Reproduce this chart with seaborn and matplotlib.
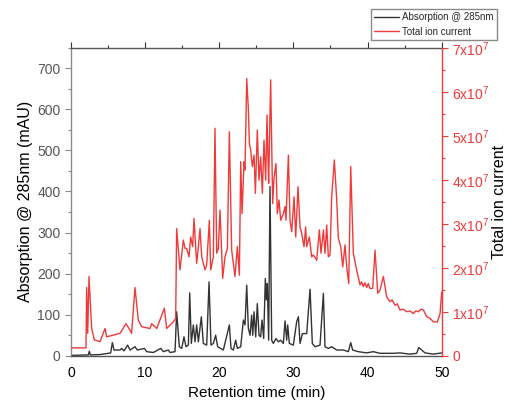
import matplotlib
matplotlib.use("Agg")
import matplotlib.pyplot as plt
import matplotlib.ticker as mticker
import seaborn as sns
import pandas as pd

# ---- data ----
tic_time = [0.0, 2.02, 2.11, 2.25, 2.43, 2.79, 3.15, 3.91, 4.59, 4.81, 5.71, 6.61, 7.42, 7.96, 8.18,
            8.63, 9.08, 9.53, 10.66, 10.88, 11.56, 12.59, 12.90, 13.80, 14.12, 14.25, 14.70, 15.15,
            15.38, 15.60, 15.92, 16.14, 16.41, 16.59, 16.95, 17.18, 17.40, 17.63, 17.85, 18.08,
            18.30, 18.66, 18.84, 19.20, 19.42, 19.65, 19.87, 20.10, 20.46, 20.77, 21.09, 21.36,
            21.67, 21.90, 22.12, 22.44, 22.71, 22.89, 23.07, 23.34, 23.47, 23.70, 23.92, 24.06,
            24.24, 24.46, 24.69, 24.87, 25.13, 25.36, 25.58, 25.81, 26.03, 26.26, 26.44, 26.57,
            26.66, 26.93, 27.20, 27.38, 27.65, 27.83, 28.06, 28.28, 28.64, 28.87, 29.00, 29.32,
            29.54, 29.77, 30.08, 30.31, 30.62, 30.89, 31.12, 31.43, 31.65, 31.79, 32.15, 32.46,
            32.69, 33.14, 33.50, 33.72, 34.04, 34.26, 34.49, 34.71, 34.94, 35.16, 35.52, 35.84,
            36.06, 36.38, 36.65, 36.96, 37.19, 37.46, 37.73, 38.08, 38.53, 38.98, 39.20, 39.43,
            39.65, 39.88, 40.10, 40.33, 40.69, 41.01, 41.37, 41.68, 42.13, 42.58, 43.03, 43.30,
            43.71, 44.00, 44.38, 44.80, 45.28, 45.70, 46.18, 46.50, 46.85, 47.20, 47.53, 47.98,
            48.43, 48.88, 49.42, 49.78, 50.0]
tic_value_e7 = [0.18, 0.18, 1.55, 0.51, 1.80, 0.62, 0.36, 0.32, 0.62, 0.43, 0.47, 0.51, 0.73, 0.58, 0.51,
                1.55, 0.81, 0.66, 0.62, 0.73, 0.62, 1.08, 0.62, 0.77, 0.85, 2.89, 1.95, 2.63,
                2.44, 2.44, 2.25, 2.70, 2.48, 3.12, 2.10, 2.48, 2.89, 2.25, 2.10, 1.95,
                2.06, 3.08, 1.95, 2.25, 5.17, 2.33, 2.44, 3.31, 1.76, 2.25, 2.44, 5.09,
                2.40, 2.10, 1.80, 2.48, 1.83, 4.41, 3.23, 4.41, 4.22, 6.30, 5.62, 4.83,
                4.67, 4.30, 4.56, 3.69, 5.13, 3.99, 4.52, 3.69, 4.90, 3.99, 5.47, 4.48,
                3.92, 6.27, 3.46, 4.03, 4.37, 3.23, 3.54, 3.08, 3.23, 3.39, 3.08, 4.56,
                3.08, 2.82, 3.61, 2.70, 3.84, 2.93, 2.78, 2.48, 2.93, 2.48, 2.70, 2.25,
                2.29, 2.17, 2.86, 2.33, 2.86, 2.33, 2.97, 2.25, 2.29, 3.61, 4.45, 3.54,
                2.67, 2.48, 2.02, 2.52, 2.02, 1.64, 4.30, 2.33, 1.95, 1.61, 1.68, 1.57,
                1.66, 1.55, 1.64, 1.53, 1.53, 2.40, 1.42, 1.49, 1.80, 1.34, 1.23, 1.27,
                1.15, 1.18, 1.04, 1.06, 1.00, 1.02, 0.96, 1.02, 1.00, 1.06, 1.04, 0.89,
                0.85, 0.77, 0.77, 0.96, 1.45]

abs_time = [0.0, 2.34, 2.47, 2.61, 3.91, 5.04, 5.35, 5.58, 5.80, 6.61, 6.83, 7.15, 7.64, 7.96, 8.63,
            8.95, 9.89, 10.21, 11.11, 12.10, 12.46, 13.13, 13.35, 14.03, 14.25, 14.61, 14.93, 15.24,
            15.51, 15.83, 16.01, 16.23, 16.50, 16.73, 16.95, 17.18, 17.58, 17.85, 18.30, 18.62,
            18.88, 19.20, 19.51, 19.78, 20.55, 21.36, 21.58, 21.90, 22.21, 22.44, 22.89, 23.25,
            23.47, 23.70, 23.92, 24.15, 24.37, 24.51, 24.69, 24.91, 25.13, 25.36, 25.58, 25.76,
            25.99, 26.21, 26.35, 26.48, 26.66, 26.84, 27.07, 27.29, 27.65, 27.97, 28.28, 28.64,
            28.87, 29.09, 29.23, 29.45, 29.99, 30.44, 30.67, 30.89, 31.21, 31.56, 31.79, 32.24,
            32.55, 32.91, 33.59, 34.04, 34.26, 34.71, 35.16, 35.84, 36.74, 37.41, 37.73, 37.99,
            38.76, 39.88, 40.78, 41.68, 43.48, 44.38, 45.73, 46.63, 46.90, 47.30, 47.75, 48.88, 50.0]
abs_value = [1, 2, 11, 2, 3, 6, 7, 32, 14, 14, 18, 12, 26, 14, 22,
             14, 18, 10, 8, 18, 10, 14, 8, 10, 107, 22, 18, 46,
             22, 26, 153, 30, 75, 34, 75, 34, 95, 30, 26, 180,
             26, 30, 50, 22, 14, 75, 18, 14, 38, 18, 22, 87,
             75, 172, 67, 50, 99, 50, 107, 46, 127, 50, 46, 87,
             42, 188, 136, 176, 38, 412, 38, 30, 42, 34, 38, 30,
             85, 38, 75, 30, 26, 83, 95, 30, 54, 54, 54, 162,
             30, 22, 26, 152, 22, 18, 22, 14, 14, 10, 32, 14,
             10, 7, 10, 6, 6, 7, 4, 6, 20, 14, 7, 4, 7]

label_abs = "Absorption @ 285nm"
label_tic = "Total ion current"

df_abs = pd.DataFrame({"t": abs_time, "v": abs_value})
df_tic = pd.DataFrame({"t": tic_time, "v": [v * 1e7 for v in tic_value_e7]})

# ---- style ----
sns.set_style("white")
plt.rcParams["font.family"] = ["Liberation Sans", "DejaVu Sans"]

BLACK = "#333333"
RED = "#f03a3a"
GREY = "#8a8a8a"

fig = plt.figure(figsize=(5.16, 4.08), dpi=100)
ax = fig.add_axes([0.1376, 0.128, 0.7184, 0.755])
ax2 = ax.twinx()
ax2.xaxis.set_visible(False)

sns.lineplot(data=df_tic, x="t", y="v", ax=ax2, color=RED, lw=1.0, estimator=None, label=label_tic, legend=False)
sns.lineplot(data=df_abs, x="t", y="v", ax=ax, color=BLACK, lw=1.0, estimator=None, label=label_abs, legend=False)

ax.set_xlim(0, 50)
ax.set_ylim(0, 750)
ax2.set_ylim(0, 7e7)

ax.xaxis.set_major_locator(mticker.MultipleLocator(10))
ax.xaxis.set_minor_locator(mticker.MultipleLocator(5))
ax.yaxis.set_major_locator(mticker.MultipleLocator(100))
ax.yaxis.set_minor_locator(mticker.MultipleLocator(50))
ax2.yaxis.set_major_locator(mticker.MultipleLocator(1e7))
ax2.yaxis.set_minor_locator(mticker.MultipleLocator(0.5e7))


def tic_fmt(v, pos):
    n = int(round(v / 1e7))
    if n == 0:
        return "0"
    return r"$\mathregular{%dx10^{7}}$" % n


ax2.yaxis.set_major_formatter(mticker.FuncFormatter(tic_fmt))

ax.set_xlabel("Retention time (min)", fontsize=11, color="black", labelpad=4)
ax.set_ylabel("Absorption @ 285nm (mAU)", fontsize=11.5, color="black", labelpad=3)
ax2.set_ylabel("Total ion current", fontsize=11.5, color="black", labelpad=2)

ax.tick_params(axis="x", which="both", direction="out", colors=BLACK, labelcolor="black",
               labelsize=10, top=True)
ax.tick_params(axis="x", which="major", length=4, width=0.8)
ax.tick_params(axis="x", which="minor", length=2.5, width=0.8)
ax.tick_params(axis="y", which="both", direction="out", colors=GREY, labelcolor="#555555", labelsize=10)
ax.tick_params(axis="y", which="major", length=4, width=0.8)
ax.tick_params(axis="y", which="minor", length=2.5, width=0.8)
ax2.tick_params(axis="y", which="both", direction="out", colors=RED, labelcolor=RED, labelsize=10)
ax2.tick_params(axis="y", which="major", length=4, width=0.8)
ax2.tick_params(axis="y", which="minor", length=2.5, width=0.8)

for a in (ax, ax2):
    for s in a.spines.values():
        s.set_linewidth(1.0)
ax.spines["left"].set_color(GREY)
ax.spines["bottom"].set_color("#555555")
ax.spines["top"].set_color("#555555")
ax.spines["right"].set_visible(False)
ax2.spines["right"].set_color(RED)
ax2.spines["left"].set_visible(False)
ax2.spines["top"].set_visible(False)
ax2.spines["bottom"].set_visible(False)

h1, l1 = ax.get_legend_handles_labels()
h2, l2 = ax2.get_legend_handles_labels()
leg = fig.legend(h1 + h2, l1 + l2, loc="upper right", bbox_to_anchor=(0.9626, 0.977),
                 fontsize=7, frameon=True, fancybox=False, edgecolor=GREY, framealpha=1,
                 borderpad=0.3, labelspacing=0.45, handlelength=2.6, handletextpad=0.3,
                 borderaxespad=0)
leg.get_frame().set_linewidth(1.0)

fig.savefig("out.png", dpi=100)
